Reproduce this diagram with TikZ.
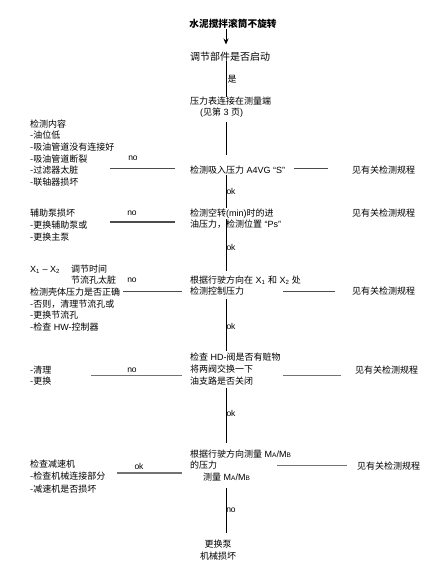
\documentclass[tikz,border=0pt]{standalone}
\usepackage{fontspec}
\setmainfont{Noto Sans CJK SC}
\newfontfamily\lat{Liberation Sans}
\usetikzlibrary{arrows.meta}
\begin{document}
\begin{tikzpicture}[x=1pt,y=-1pt,
  txt/.style={inner sep=0pt, anchor=north west, align=left, font=\fontsize{9}{11.6}\selectfont},
  lbl/.style={inner sep=0pt, font=\lat\fontsize{8.5}{9}\selectfont},
  hline/.style={draw=black!70, line width=1.3pt},
  hlineg/.style={draw=black!55, line width=1.8pt},
  vline/.style={draw=black, line width=0.8pt}]
\newcommand{\sub}[1]{\textsubscript{#1}}
\newcommand{\smc}[1]{{\fontsize{6.5}{7}\selectfont #1}}
\useasboundingbox (0,0) rectangle (432,563);
\fill[white] (0,0) rectangle (432,563);

% title and center column
\node[inner sep=0pt, font=\fontsize{9.7}{11}\selectfont\bfseries] (title) at (233,24) {水泥搅拌滚筒不旋转};
\node[txt, font=\fontsize{10}{11.6}\selectfont] (n1) at (190,52) {调节部件是否启动};
\node[txt] (n2) at (190,96.5) {压力表连接在测量端\\\hspace*{10pt}{\lat (}见第{\lat\ 3 }页{\lat )}};
\node[txt] (n3) at (190,165.5) {检测吸入压力{\lat\ A4VG “S”}};
\node[txt] (n4) at (190,208.5) {检测空转{\lat (min)}时的进\\油压力，检测位置{\lat\ “Ps”}};
\node[txt] (n5) at (190,275.5) {根据行驶方向在{\lat\ X\sub{1} }和{\lat\ X\sub{2} }处\\检测控制压力};
\node[txt, font=\fontsize{9}{12}\selectfont] (n6) at (190,352.5) {检查{\lat\ HD-}阀是否有赃物\\将两阀交换一下\\油支路是否关闭};
\node[txt] (n7) at (190,449.5) {根据行驶方向测量{\lat\ M\smc{A}/M\smc{B}}\\的压力\\\hspace*{13pt}测量{\lat\ M\smc{A}/M\smc{B}}};
\node[txt, anchor=north, align=center, font=\fontsize{9}{12}\selectfont] (n8) at (218,539.5) {更换泵\\机械损坏};

% left column
\node[txt] (l1) at (30,119.5) {检测内容\\-油位低\\-吸油管道没有连接好\\-吸油管道断裂\\-过滤器太脏\\-联轴器损坏};
\node[txt, font=\fontsize{9}{12}\selectfont] (l2) at (30,208.5) {辅助泵损坏\\-更换辅助泵或\\-更换主泵};
\node[txt] (l3) at (30,264.5) {\makebox[41pt][l]{\lat X\sub{1} – X\sub{2}}调节时间\\\hspace*{41pt}节流孔太脏\\检测壳体压力是否正确\\-否则，清理节流孔或\\-更换节流孔\\-检查{\lat\ HW-}控制器};
\node[txt] (l4) at (30,365.5) {-清理\\-更换};
\node[txt, font=\fontsize{9}{12.4}\selectfont] (l5) at (30,459.5) {检查减速机\\-检查机械连接部分\\-减速机是否损坏};

% right column
\node[txt] (r1) at (352,165.5) {见有关检测规程};
\node[txt] (r2) at (352,208.5) {见有关检测规程};
\node[txt] (r3) at (352,286.5) {见有关检测规程};
\node[txt] (r4) at (355,365.5) {见有关检测规程};
\node[txt] (r5) at (357,461.5) {见有关检测规程};

% vertical connectors
\coordinate (a0) at (226,29);  \coordinate (a1) at (226,44.5);
\coordinate (b0) at (226,61);  \coordinate (b1) at (226,97);
\coordinate (c0) at (226,122); \coordinate (c1) at (226,155);
\coordinate (d0) at (226,175); \coordinate (d1) at (226,208);
\coordinate (e0) at (226,219); \coordinate (e1) at (226,271);
\coordinate (f0) at (226,299); \coordinate (f1) at (226,351);
\coordinate (g0) at (226,388); \coordinate (g1) at (226,443);
\coordinate (h0) at (226,488); \coordinate (h1) at (226,533);
\draw[vline, -{Stealth[length=6pt,width=5pt]}] (a0) -- (a1);
\draw[vline] (b0) -- (b1);
\draw[vline] (c0) -- (c1);
\draw[vline] (d0) -- (d1);
\draw[vline] (e0) -- (e1);
\draw[vline] (f0) -- (f1);
\draw[vline] (g0) -- (g1);
\draw[vline] (h0) -- (h1);

\node[inner sep=0pt, font=\fontsize{9}{10}\selectfont] (y1) at (232,79) {是};
\node[lbl] (k1) at (231,191) {ok};
\node[lbl] (k2) at (231,247) {ok};
\node[lbl] (k3) at (231,326) {ok};
\node[lbl] (k4) at (231,413) {ok};
\node[lbl] (k5) at (231,510) {no};

% horizontal connectors
\coordinate (p1a) at (110,168.5); \coordinate (p1b) at (175,168.5);
\coordinate (q1a) at (294,168.5); \coordinate (q1b) at (328,168.5);
\coordinate (p2a) at (110,222);   \coordinate (p2b) at (175,222);
\coordinate (p3a) at (123,291.5); \coordinate (p3b) at (182,291.5);
\coordinate (q3a) at (283,291.5); \coordinate (q3b) at (335,291.5);
\coordinate (p4a) at (91,375.5);  \coordinate (p4b) at (182,375.5);
\coordinate (q4a) at (283,375.5); \coordinate (q4b) at (341,375.5);
\coordinate (p5a) at (117,473);   \coordinate (p5b) at (182,473);
\coordinate (q5a) at (277,465.5); \coordinate (q5b) at (347,465.5);
\draw[hline] (p1a) -- (p1b);
\draw[hline] (q1a) -- (q1b);
\draw[hline] (p2a) -- (p2b);
\draw[hline] (p3a) -- (p3b);
\draw[hline] (q3a) -- (q3b);
\draw[hlineg] (p4a) -- (p4b);
\draw[hlineg] (q4a) -- (q4b);
\draw[hlineg] (p5a) -- (p5b);
\draw[hlineg] (q5a) -- (q5b);

\node[lbl] (m1) at (133,158) {no};
\node[lbl] (m2) at (132,213) {no};
\node[lbl] (m3) at (132,280) {no};
\node[lbl] (m4) at (132,370) {no};
\node[lbl] (m5) at (139,466.5) {ok};
\end{tikzpicture}
\end{document}
